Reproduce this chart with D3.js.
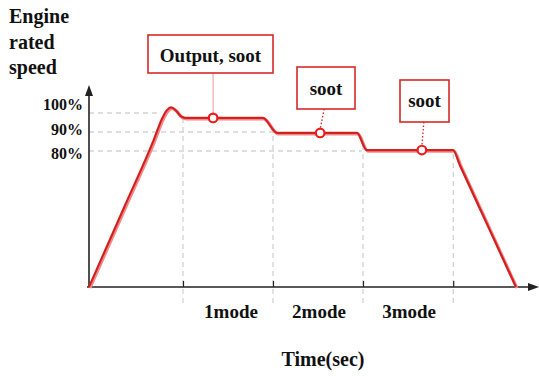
<!DOCTYPE html>
<html>
<head>
<meta charset="utf-8">
<script src="https://cdn.jsdelivr.net/npm/d3@7"></script>
<style>
  html, body { margin: 0; padding: 0; background: #fff; }
  svg { display: block; }
  text { font-family: "Liberation Serif", "Times New Roman", serif; font-weight: bold; fill: #111; }
</style>
</head>
<body>
<svg id="chart" width="539" height="376"></svg>
<script>
// ---- data ----
const curveTimes  = [0, 8, 14.5, 16.3, 17.4, 18.3, 19.4, 20.5, 21.5, 38.8, 42, 59.8, 62, 81.25, 82.8, 89.5, 95.3];
const curveValues = [0, 47.8, 86.1, 97, 101.5, 103, 101.3, 98.3, 97.4, 97.4, 89.5, 89.5, 80.5, 80.5, 71.6, 33.3, 0];
const yTickValues = [100, 90, 80];
const yTickLabels = ["100%", "90%", "80%"];
const gridEndTimes = [15.2, 41.5, 60.9];
const modeBounds = [20.98, 41.07, 61.16, 81.3];
const modeLabels = ["1mode", "2mode", "3mode"];
const noteLabels = ["Output, soot", "soot", "soot"];
const noteTimes  = [27.7, 51.6, 74.3];
const noteValues = [97.4, 89.5, 80.5];
const titleLines = ["Engine", "rated", "speed"];
const xTitle = "Time(sec)";

// ---- layout ----
const svg = d3.select("#chart");
const x = d3.scaleLinear().domain([0, 100]).range([89, 537]);
const y = d3.scaleLinear().domain([0, 80, 90, 100]).range([287, 151, 132, 113]);
const yLabelPos = d3.scaleLinear().domain([80, 100]).range([159, 110]);
const red = "#e32222";

function valueAt(t) {
  const i = d3.bisectRight(curveTimes, t);
  if (i <= 0) return curveValues[0];
  if (i >= curveTimes.length) return curveValues[curveValues.length - 1];
  const t0 = curveTimes[i - 1], t1 = curveTimes[i];
  return d3.interpolateNumber(curveValues[i - 1], curveValues[i])((t - t0) / (t1 - t0));
}

// horizontal dashed guide lines
svg.append("g").selectAll("line").data(yTickValues).join("line")
  .attr("x1", x(0)).attr("x2", (d, i) => x(gridEndTimes[i]))
  .attr("y1", d => y(d)).attr("y2", d => y(d))
  .attr("stroke", "#bdbdbd").attr("stroke-width", 1).attr("stroke-dasharray", "5,4");

// vertical dashed mode lines
svg.append("g").selectAll("line").data(modeBounds).join("line")
  .attr("x1", d => x(d)).attr("x2", d => x(d))
  .attr("y1", 303).attr("y2", d => y(valueAt(d)) + 2)
  .attr("stroke", "#c4c4c4").attr("stroke-width", 1).attr("stroke-dasharray", "5,4");

// x ticks (small upward)
const xAxis = d3.axisBottom(x).tickValues(modeBounds).tickSize(-6).tickFormat("");
const gx = svg.append("g").attr("transform", `translate(0,${y(0)})`).call(xAxis);
gx.select(".domain").remove();
gx.selectAll(".tick line").attr("stroke", "#222").attr("stroke-width", 1.2);

// axes lines with arrowheads
svg.append("line").attr("x1", 87).attr("x2", 530).attr("y1", y(0)).attr("y2", y(0))
  .attr("stroke", "#222").attr("stroke-width", 1.6);
svg.append("path").attr("d", `M539,${y(0)} L528,${y(0) - 4} L528,${y(0) + 4} Z`).attr("fill", "#222");
svg.append("line").attr("x1", x(0)).attr("x2", x(0)).attr("y1", y(0)).attr("y2", 94)
  .attr("stroke", "#222").attr("stroke-width", 1.6);
svg.append("path").attr("d", `M${x(0)},85 L${x(0) - 4},96 L${x(0) + 4},96 Z`).attr("fill", "#222");

// y tick labels
svg.append("g").selectAll("text").data(yTickValues).join("text")
  .attr("x", 83).attr("y", d => yLabelPos(d))
  .attr("text-anchor", "end").attr("font-size", 16)
  .text((d, i) => yTickLabels[i]);

// title lines
svg.append("g").selectAll("text").data(titleLines).join("text")
  .attr("x", 9).attr("y", (d, i) => 23 + i * 25.5)
  .attr("font-size", 20).text(d => d);

// mode labels
svg.append("g").selectAll("text").data(modeLabels).join("text")
  .attr("x", (d, i) => (x(modeBounds[i]) + x(modeBounds[i + 1])) / 2 + (i === 0 ? 3 : 1))
  .attr("y", 318).attr("text-anchor", "middle").attr("font-size", 19).text(d => d);

svg.append("text").attr("x", 323).attr("y", 366).attr("text-anchor", "middle")
  .attr("font-size", 20).text(xTitle);

// the curve
const line = d3.line().x(d => x(d[0])).y(d => y(d[1])).curve(d3.curveMonotoneX);
const pts = curveTimes.map((t, i) => [t, curveValues[i]]);
svg.append("path").datum(pts).attr("d", line).attr("fill", "none")
  .attr("stroke", "#f08a8a").attr("stroke-width", 3.2).attr("transform", "translate(1,1)");
svg.append("path").datum(pts).attr("d", line).attr("fill", "none")
  .attr("stroke", red).attr("stroke-width", 2.2);
svg.append("path").datum(pts).attr("d", line).attr("fill", "none")
  .attr("stroke", "#a82020").attr("stroke-width", 0.8).attr("opacity", 0.7);

// annotations
const noteLayout = [
  { cx: 210.5, top: 35, w: 125, h: 38, base: 62, size: 19, lineTop: 73, dash: null, lx: 0 },
  { cx: 326,   top: 67, w: 58,  h: 42, base: 95, size: 19, lineTop: 109, dash: "1.5,2", lx: 4 },
  { cx: 424.5, top: 80, w: 49,  h: 42, base: 107, size: 19, lineTop: 122, dash: "1.5,2", lx: 2 }
];
noteLabels.forEach((label, i) => {
  const L = noteLayout[i];
  const mx = x(noteTimes[i]), my = y(noteValues[i]);
  svg.append("line").attr("x1", mx + L.lx).attr("y1", L.lineTop).attr("x2", mx).attr("y2", my - 4)
    .attr("stroke", i === 0 ? "#e99" : red).attr("stroke-width", i === 0 ? 1 : 1.3)
    .attr("stroke-dasharray", L.dash);
  svg.append("rect").attr("x", L.cx - L.w / 2).attr("y", L.top).attr("width", L.w).attr("height", L.h)
    .attr("fill", "#fff").attr("stroke", "#d62828").attr("stroke-width", 1.6);
  svg.append("text").attr("x", L.cx).attr("y", L.base).attr("text-anchor", "middle")
    .attr("font-size", L.size).text(label);
  svg.append("circle").attr("cx", mx).attr("cy", my).attr("r", 4.3)
    .attr("fill", "#fff").attr("stroke", "#f01a1a").attr("stroke-width", 2.2);
});
</script>
</body>
</html>
